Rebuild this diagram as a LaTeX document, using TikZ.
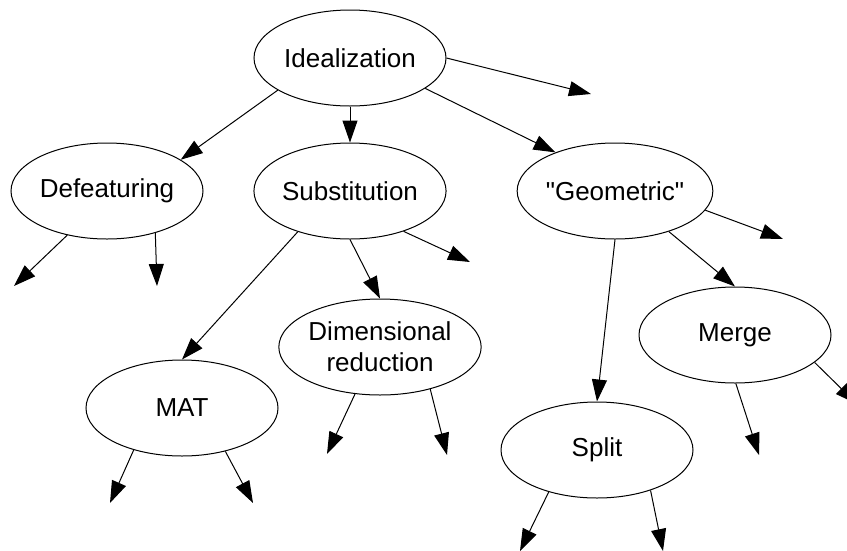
\documentclass[tikz,border=0pt]{standalone}
\usepackage{fontspec}
\setmainfont{Liberation Sans}[Ligatures=ResetAll]
\usetikzlibrary{arrows.meta,shapes.geometric}
\newcommand\straightdq{\XeTeXglyph\XeTeXcharglyph"0022\relax}
\begin{document}
\begin{tikzpicture}[x=1pt,y=-1pt,
  el/.style={draw,ellipse,line width=1pt,minimum width=192pt,minimum height=96pt,inner sep=0pt,
    font=\fontsize{26}{31}\selectfont,align=center},
  arr/.style={line width=1pt,-{Triangle[length=22pt,width=15pt]}}]
\useasboundingbox (0,0) rectangle (847,550);
\clip (0,0) rectangle (847,550);
\node[el] (ideal) at (350,58) {Idealization};
\node[el] (defeat) at (107,191) {Defeaturing};
\node[el] (subst) at (350,191) {Substitution};
\node[el] (geom) at (615,191) {\straightdq Geometric\straightdq};
\node[el] (mat) at (182,408) {MAT};
\node[el] (dimred) at (380,347) {Dimensional\\reduction};
\node[el] (split) at (597,450) {Split};
\node[el] (merge) at (735,335) {Merge};
\coordinate (f1) at (591,94);
\coordinate (f2) at (14,286);
\coordinate (f3) at (157,286);
\coordinate (f4) at (470,262);
\coordinate (f5) at (783,239);
\coordinate (f6) at (110,503);
\coordinate (f7) at (253,503);
\coordinate (f8) at (327,454);
\coordinate (f9) at (447,455);
\coordinate (f10) at (759,455);
\coordinate (f11) at (857,404);
\coordinate (f12) at (520,551);
\coordinate (f13) at (663,551);
\draw[arr] (ideal.0) -- (f1);
\draw[arr] (ideal.204.6) -- (defeat.23.7);
\draw[arr] (ideal.south) -- (subst.north);
\draw[arr] (ideal.-22.5) -- (geom.147.7);
\draw[arr] (defeat.228.4) -- (f2);
\draw[arr] (defeat.-41.2) -- (f3);
\draw[arr] (subst.218.8) -- (mat.north);
\draw[arr] (subst.south) -- (dimred.north);
\draw[arr] (subst.-37.7) -- (f4);
\draw[arr] (geom.-12.8) -- (f5);
\draw[arr] (geom.-37.7) -- (merge.north);
\draw[arr] (geom.south) -- (split.north);
\draw[arr] (mat.221.8) -- (f6);
\draw[arr] (mat.-45) -- (f7);
\draw[arr] (dimred.242.9) -- (f8);
\draw[arr] (dimred.-40) -- (f9);
\draw[arr] (merge.-89) -- (f10);
\draw[arr] (merge.-19.5) -- (f11);
\draw[arr] (split.221.2) -- (f12);
\draw[arr] (split.-37.6) -- (f13);
\end{tikzpicture}
\end{document}
